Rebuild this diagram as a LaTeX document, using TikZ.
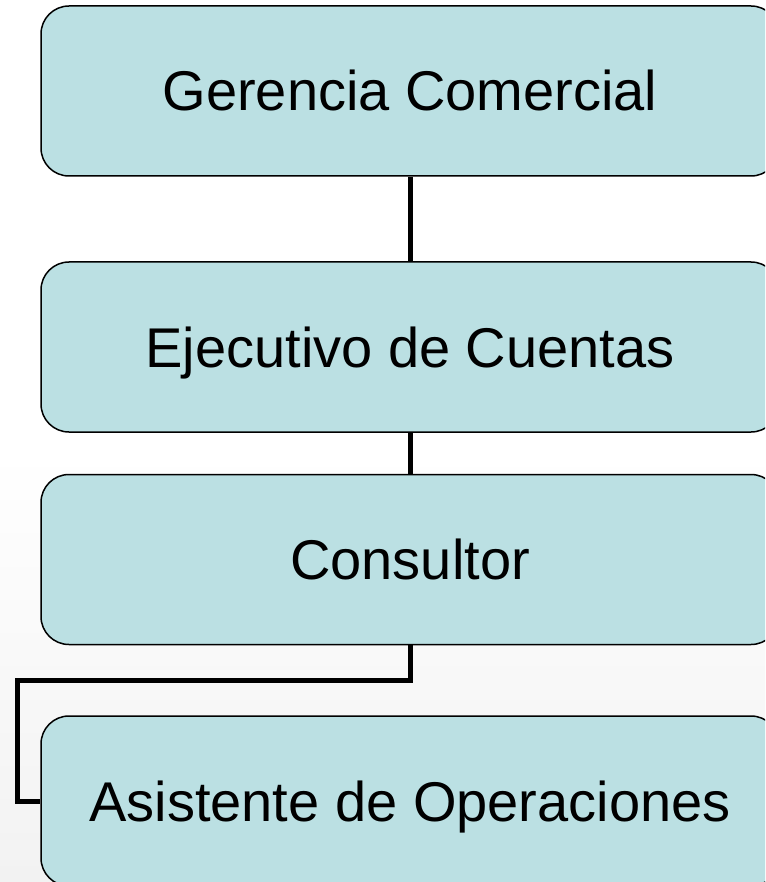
\documentclass[tikz,border=0pt]{standalone}
\usepackage{fontspec}
\setmainfont{Liberation Sans}
\definecolor{boxfill}{RGB}{187,224,227}
\definecolor{bgbot}{RGB}{242,242,242}
\begin{document}
\begin{tikzpicture}[x=1pt,y=-1pt,
  orgbox/.style={draw=black, line width=1.5pt, fill=boxfill, rounded corners=28pt,
    minimum width=738pt, minimum height=170pt, inner sep=0pt,
    font=\fontsize{56}{66}\selectfont, text height=40pt, text depth=0pt},
  conn/.style={draw=black, line width=5pt}]
\useasboundingbox (0,0) rectangle (765,882);
\clip (0,0) rectangle (765,882);
\fill[white] (0,0) rectangle (765,882);
\shade[top color=white, bottom color=bgbot] (0,450) rectangle (765,882);
\node[orgbox] (a) at (410,91) {Gerencia Comercial};
\node[orgbox] (b) at (410,347) {Ejecutivo de Cuentas};
\node[orgbox] (c) at (410,559.5) {Consultor};
\node[orgbox] (d) at (410,801) {Asistente de Operaciones};
\coordinate (k1) at (410,680);
\coordinate (k2) at (17,680);
\draw[conn] (a.south) -- (b.north);
\draw[conn] (b.south) -- (c.north);
\draw[conn] (c.south) -- (k1) -- (k2) |- (d.west);
\end{tikzpicture}
\end{document}
